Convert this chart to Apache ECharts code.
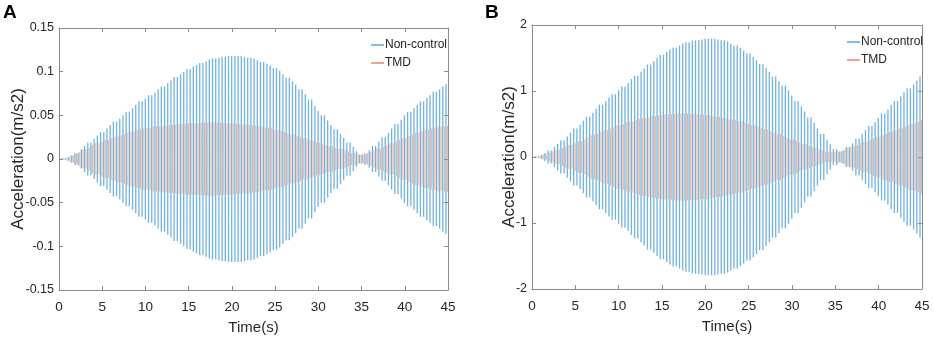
<!DOCTYPE html>
<html>
<head>
    <meta charset="utf-8">
    <script src="https://cdn.jsdelivr.net/npm/echarts@6/dist/echarts.min.js"></script>
    <style>
        body { margin: 0; background: #fff; }
    </style>
</head>
<body>
    <div id="main" style="width: 934px;height:340px;"></div>
    <script type="text/javascript">
        // envelope (peak amplitude) of each response, read every 0.5 s from t = 0 to 45 s
        var ampNonControlA = [0, 0.001, 0.002, 0.004, 0.007, 0.011, 0.015, 0.019, 0.023, 0.027,
            0.031, 0.035, 0.039, 0.043, 0.046, 0.050, 0.054, 0.058, 0.062, 0.066,
            0.069, 0.073, 0.076, 0.080, 0.083, 0.087, 0.090, 0.094, 0.097, 0.100,
            0.103, 0.106, 0.108, 0.110, 0.112, 0.114, 0.115, 0.116, 0.117, 0.118,
            0.118, 0.118, 0.118, 0.117, 0.116, 0.115, 0.113, 0.111, 0.109, 0.107,
            0.104, 0.101, 0.097, 0.093, 0.089, 0.085, 0.080, 0.074, 0.068, 0.061,
            0.055, 0.050, 0.044, 0.039, 0.034, 0.029, 0.024, 0.019, 0.014, 0.009,
            0.005, 0.006, 0.010, 0.015, 0.020, 0.025, 0.030, 0.035, 0.040, 0.045,
            0.050, 0.054, 0.058, 0.062, 0.066, 0.070, 0.073, 0.077, 0.080, 0.083,
            0.086];
        var ampTmdA = [0, 0.001, 0.002, 0.004, 0.006, 0.0085, 0.011, 0.0135, 0.016, 0.018,
            0.020, 0.022, 0.024, 0.0255, 0.027, 0.0285, 0.030, 0.0315, 0.033, 0.034,
            0.035, 0.036, 0.037, 0.0375, 0.038, 0.0385, 0.039, 0.0395, 0.040, 0.0405,
            0.041, 0.041, 0.041, 0.0415, 0.042, 0.042, 0.042, 0.0415, 0.041, 0.041,
            0.041, 0.0405, 0.040, 0.0395, 0.039, 0.0385, 0.038, 0.037, 0.036, 0.035,
            0.034, 0.0325, 0.031, 0.0295, 0.028, 0.0265, 0.025, 0.0235, 0.022, 0.0205,
            0.019, 0.0175, 0.016, 0.0145, 0.013, 0.0115, 0.010, 0.0085, 0.007, 0.006,
            0.006, 0.007, 0.008, 0.010, 0.012, 0.014, 0.016, 0.018, 0.020, 0.022,
            0.024, 0.026, 0.028, 0.030, 0.032, 0.0335, 0.035, 0.036, 0.037, 0.0375,
            0.038];
        var ampNonControlB = [0, 0.01, 0.03, 0.06, 0.10, 0.15, 0.20, 0.25, 0.31, 0.37,
            0.43, 0.49, 0.55, 0.61, 0.67, 0.73, 0.79, 0.85, 0.90, 0.95,
            1.01, 1.07, 1.12, 1.18, 1.23, 1.29, 1.34, 1.40, 1.45, 1.50,
            1.55, 1.59, 1.63, 1.66, 1.69, 1.72, 1.74, 1.76, 1.77, 1.78,
            1.79, 1.79, 1.79, 1.78, 1.77, 1.75, 1.72, 1.69, 1.65, 1.61,
            1.57, 1.52, 1.47, 1.41, 1.35, 1.29, 1.22, 1.15, 1.08, 1.01,
            0.93, 0.85, 0.77, 0.69, 0.60, 0.52, 0.43, 0.35, 0.26, 0.19,
            0.12, 0.08, 0.10, 0.15, 0.21, 0.28, 0.35, 0.41, 0.47, 0.53,
            0.59, 0.66, 0.72, 0.79, 0.85, 0.92, 0.98, 1.04, 1.10, 1.16,
            1.22];
        var ampTmdB = [0, 0.01, 0.02, 0.04, 0.06, 0.085, 0.11, 0.135, 0.16, 0.185,
            0.21, 0.24, 0.27, 0.30, 0.33, 0.355, 0.38, 0.405, 0.43, 0.455,
            0.48, 0.50, 0.52, 0.54, 0.56, 0.575, 0.59, 0.605, 0.62, 0.63,
            0.64, 0.645, 0.65, 0.655, 0.66, 0.66, 0.66, 0.655, 0.65, 0.645,
            0.64, 0.63, 0.62, 0.61, 0.60, 0.585, 0.57, 0.555, 0.54, 0.52,
            0.50, 0.48, 0.46, 0.44, 0.42, 0.395, 0.37, 0.345, 0.32, 0.295,
            0.27, 0.245, 0.22, 0.195, 0.17, 0.145, 0.12, 0.10, 0.08, 0.07,
            0.07, 0.09, 0.11, 0.135, 0.16, 0.185, 0.21, 0.235, 0.26, 0.285,
            0.31, 0.335, 0.36, 0.385, 0.41, 0.435, 0.46, 0.485, 0.51, 0.535,
            0.56];

        // oscillation period (s)
        var period = 0.37;

        var xTicks = [0, 5, 10, 15, 20, 25, 30, 35, 40, 45];
        var yTicksA = [-0.15, -0.1, -0.05, 0, 0.05, 0.1, 0.15];
        var yTicksB = [-2, -1, 0, 1, 2];

        // one stroke per cycle, from +peak to -peak, with the envelope read nearest to it
        function strokes(amp, phase) {
            var pts = [];
            for (var k = 0; ; k++) {
                var t = phase + k * period;
                if (t > 45) break;
                var a = amp[Math.round(t * 2)];
                pts.push([t, a], [t, -a], [t, '-']);
            }
            return pts;
        }

        var blue = '#58a6d9';
        var orange = '#e48a66';
        var textColor = '#262626';
        var axisColor = '#8a8a8a';
        var font = "'Liberation Sans Narrow', 'Liberation Sans', sans-serif";

        function xAxes(gridIndex) {
            return [{
                gridIndex: gridIndex, type: 'value', min: xTicks[0], max: xTicks[xTicks.length - 1], interval: 5,
                name: 'Time(s)', nameLocation: 'middle', nameGap: 30, nameMoveOverlap: false,
                nameTextStyle: {color: textColor, fontSize: 15, fontFamily: font, verticalAlign: 'top'},
                axisLine: {onZero: false, lineStyle: {color: axisColor}},
                axisTick: {inside: true, length: 4, lineStyle: {color: axisColor}},
                axisLabel: {color: textColor, fontSize: 13.5, fontFamily: font, margin: 10},
                splitLine: {show: false}
            }, {
                gridIndex: gridIndex, type: 'value', min: xTicks[0], max: xTicks[xTicks.length - 1], interval: 5, position: 'top',
                axisLine: {onZero: false, lineStyle: {color: axisColor}},
                axisTick: {inside: true, length: 4, lineStyle: {color: axisColor}},
                axisLabel: {show: false},
                splitLine: {show: false}
            }];
        }

        function yAxes(gridIndex, ticks, gap) {
            var lo = ticks[0], hi = ticks[ticks.length - 1], step = ticks[1] - ticks[0];
            var fmt = function (v) { return String(+v.toFixed(2)); };
            return [{
                gridIndex: gridIndex, type: 'value', min: lo, max: hi, interval: step,
                name: 'Acceleration(m/s2)', nameLocation: 'middle', nameGap: gap, nameMoveOverlap: false,
                nameTextStyle: {color: textColor, fontSize: 17, fontFamily: font},
                axisLine: {onZero: false, lineStyle: {color: axisColor}},
                axisTick: {inside: true, length: 4, lineStyle: {color: axisColor}},
                axisLabel: {color: textColor, fontSize: 12.5, fontFamily: font, margin: 5, formatter: fmt},
                splitLine: {show: false}
            }, {
                gridIndex: gridIndex, type: 'value', min: lo, max: hi, interval: step, position: 'right',
                axisLine: {onZero: false, lineStyle: {color: axisColor}},
                axisTick: {inside: true, length: 4, lineStyle: {color: axisColor}},
                axisLabel: {show: false},
                splitLine: {show: false}
            }];
        }

        function wave(name, data, color, width, opacity, xi, yi) {
            return {
                name: name, type: 'line', xAxisIndex: xi, yAxisIndex: yi,
                data: data, showSymbol: false, symbol: 'none', silent: true,
                connectNulls: false, color: color,
                lineStyle: {color: color, width: width, opacity: opacity}
            };
        }

        var legendBase = {
            orient: 'vertical', icon: 'rect', itemWidth: 13, itemHeight: 1.5, itemGap: 6,
            textStyle: {color: textColor, fontSize: 12, fontFamily: font, padding: [0, 0, 0, -4]},
            data: ['Non-control', 'TMD']
        };

        option = {
            animation: false,
            backgroundColor: '#fff',
            title: [
                {text: 'A', left: 3, top: 3, padding: 0, textStyle: {fontSize: 19, fontWeight: 'bold', color: '#000', fontFamily: 'Liberation Sans'}},
                {text: 'B', left: 485, top: 3, padding: 0, textStyle: {fontSize: 19, fontWeight: 'bold', color: '#000', fontFamily: 'Liberation Sans'}}
            ],
            legend: [
                Object.assign({left: 366, top: 34}, legendBase),
                Object.assign({left: 842, top: 31}, legendBase)
            ],
            grid: [
                {left: 59, right: 486, top: 28, bottom: 48},
                {left: 532, right: 12, top: 25, bottom: 51}
            ],
            xAxis: xAxes(0).concat(xAxes(1)),
            yAxis: yAxes(0, yTicksA, 32).concat(yAxes(1, yTicksB, 14)),
            series: [
                wave('Non-control', strokes(ampNonControlA, 0), blue, 1.3, 0.85, 0, 0),
                wave('TMD', strokes(ampTmdA, period / 2), orange, 1.0, 0.65, 0, 0),
                wave('Non-control', strokes(ampNonControlB, 0), blue, 1.3, 0.85, 2, 2),
                wave('TMD', strokes(ampTmdB, period / 2), orange, 1.0, 0.65, 2, 2)
            ]
        };

        var myChart = echarts.init(document.getElementById('main'));
        myChart.setOption(option);
    </script>
</body>
</html>
